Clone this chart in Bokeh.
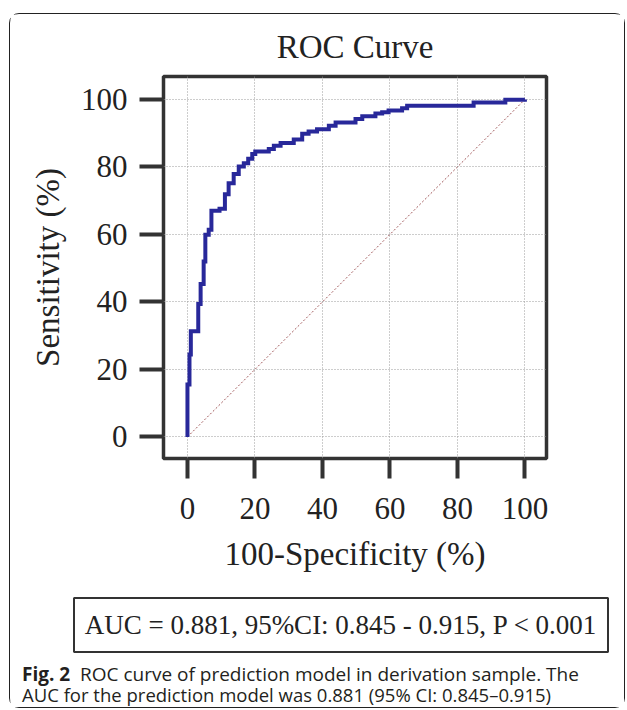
from bokeh.plotting import figure
from bokeh.models import Range1d, FixedTicker, Spacer
from bokeh.layouts import column, row
from bokeh.core.properties import value
from bokeh.embed import file_html
from bokeh.resources import INLINE

title_text = "ROC Curve"
x_label = "100-Specificity (%)"
y_label = "Sensitivity (%)"
ticks = [0, 20, 40, 60, 80, 100]
fpr_steps = [0, 0.6, 1.0, 3.2, 3.9, 4.8, 5.3, 6.3, 7.1, 9.5,
             11.1, 12.2, 13.7, 15.2, 16.7, 18.0, 19.2, 20.1, 24.1, 25.6,
             27.6, 31.5, 34.0, 35.9, 38.4, 41.9, 43.9, 49.8, 51.8, 55.7,
             57.7, 59.6, 63.6, 65.1, 84.8, 94.2, 100]
tpr_steps = [15.5, 24.4, 31.3, 39.4, 45.3, 52.0, 59.9, 61.4, 67.0, 67.6,
             71.9, 75.2, 77.9, 80.1, 81.1, 82.4, 83.8, 84.6, 85.3, 86.3,
             87.1, 88.1, 89.8, 90.5, 91.2, 92.2, 93.2, 94.2, 95.0, 95.8,
             96.2, 96.7, 97.4, 98.1, 99.1, 99.9, 100]
diag_x = [0, 100]
diag_y = [0, 100]
auc_text = "AUC = 0.881, 95%CI: 0.845 - 0.915, P < 0.001"
caption_bold = "Fig. 2"
caption_line1 = "ROC curve of prediction model in derivation sample. The"
caption_line2 = "AUC for the prediction model was 0.881 (95% CI: 0.845\u20130.915)"

# staircase vertices
xs, ys, prev = [0], [0], 0
for fx, ty in zip(fpr_steps, tpr_steps):
    xs += [fx, fx]
    ys += [prev, ty]
    prev = ty

SERIF = "Liberation Serif"
SANS = "Open Sans"
INNER_W = 614
TOP_H = 575
BOT_H = 117

p = figure(frame_width=383, frame_height=382,
           min_border_left=153, min_border_right=INNER_W - 153 - 383,
           min_border_top=61, min_border_bottom=TOP_H - 61 - 382,
           x_range=Range1d(-7.1, 106.4), y_range=Range1d(-6.4, 106.8),
           output_backend="svg", toolbar_location=None,
           title=title_text)
p.background_fill_color = "white"
p.border_fill_color = "white"
p.outline_line_color = "#333333"
p.outline_line_width = 3.5

p.title.align = "center"
p.title.text_font = SERIF
p.title.text_font_size = "33px"
p.title.text_font_style = "normal"
p.title.text_color = "#222222"
p.title.standoff = 24

for ax in (p.xaxis[0], p.yaxis[0]):
    ax.ticker = FixedTicker(ticks=ticks)
    ax.axis_line_color = None
    ax.major_tick_line_color = "#333333"
    ax.major_tick_line_width = 4
    ax.major_tick_in = 0
    ax.minor_tick_line_color = None
    ax.major_label_text_font = SERIF
    ax.major_label_text_font_size = "31px"
    ax.major_label_text_color = "#222222"
    ax.axis_label_text_font = SERIF
    ax.axis_label_text_font_size = "33px"
    ax.axis_label_text_font_style = "normal"
    ax.axis_label_text_color = "#222222"

p.xaxis.axis_label = x_label
p.yaxis.axis_label = y_label
p.xaxis.major_tick_out = 20
p.yaxis.major_tick_out = 24
p.xaxis.major_label_standoff = 19
p.yaxis.major_label_standoff = 12
p.xaxis.axis_label_standoff = 14
p.yaxis.axis_label_standoff = 12

for g in (p.xgrid[0], p.ygrid[0]):
    g.ticker = FixedTicker(ticks=ticks)
    g.grid_line_color = "#9a9a9a"
    g.grid_line_dash = "1 2"
    g.grid_line_width = 1

p.line(diag_x, diag_y, line_color="#a0585a", line_dash="2 2", line_width=1)
p.line(xs, ys, line_color="#28289a", line_width=4, line_join="miter")

# bottom panel: AUC box and caption, drawn in page-pixel coordinates
OX, OY = 10.5, 14.5 + TOP_H
q = figure(frame_width=INNER_W, frame_height=BOT_H,
           x_range=Range1d(OX, OX + INNER_W), y_range=Range1d(OY + BOT_H, OY),
           min_border=0, min_border_left=0, min_border_right=0,
           min_border_top=0, min_border_bottom=0,
           x_axis_location=None, y_axis_location=None,
           output_backend="svg", toolbar_location=None)
q.xgrid.visible = False
q.ygrid.visible = False
q.outline_line_color = None
q.background_fill_color = "white"
q.border_fill_color = "white"

for fig in (p, q):
    try:
        fig.frame_align = False
    except Exception:
        pass

q.quad(left=[74], right=[608], top=[597], bottom=[651],
       fill_color=None, line_color="#333333", line_width=2)
q.text(x=[341], y=[624], text=[auc_text], text_font=value(SERIF),
       text_font_size=value("27px"), text_color="#222222",
       text_align="center", text_baseline="middle")
q.text(x=[22], y=[673], text=[caption_bold], text_font=value(SANS),
       text_font_size=value("19px"), text_font_style="bold",
       text_color="#231f20", text_align="left", text_baseline="middle")
q.text(x=[80], y=[673], text=[caption_line1], text_font=value(SANS),
       text_font_size=value("19px"), text_color="#231f20",
       text_align="left", text_baseline="middle")
q.text(x=[22], y=[693], text=[caption_line2], text_font=value(SANS),
       text_font_size=value("18.5px"), text_color="#231f20",
       text_align="left", text_baseline="middle")

inner = column(p, q, styles={"border": "1.5px solid #222222",
                             "border-radius": "10px"})
root = row(Spacer(width=9), column(Spacer(height=13), inner))

open("out.html", "w").write(file_html(root, INLINE))
